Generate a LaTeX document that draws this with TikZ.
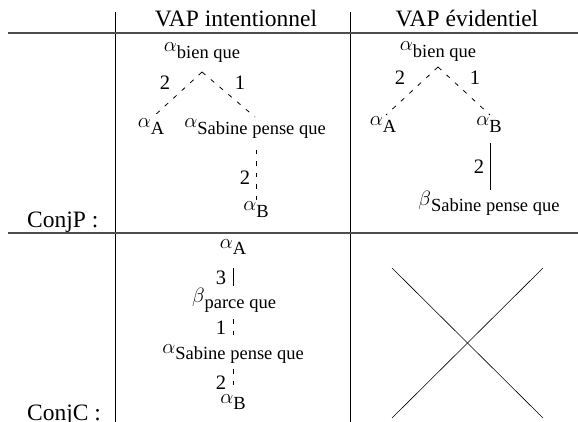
\documentclass[tikz,border=0pt]{standalone}
\usepackage{fontspec}
\setmainfont{Liberation Serif}
\tikzset{
  hdr/.style={font=\fontsize{23.5}{28}\selectfont, anchor=base, inner sep=0pt},
  lbl/.style={font=\fontsize{20.5}{24}\selectfont, inner sep=0pt},
  tnode/.style={font=\fontsize{18.5}{22}\selectfont, inner sep=0pt, anchor=base},
  vrule/.style={line width=0.9pt, black},
  hrule/.style={line width=1.1pt, black!70},
  dashedge/.style={line width=0.8pt, dash pattern=on 4.5pt off 7pt},
  solidedge/.style={line width=0.8pt},
  cross/.style={line width=0.6pt},
}
\newcommand{\glsym}[2]{{\fontsize{20.5}{24}\selectfont$#1$}\raisebox{-6.5pt}{#2}}
\begin{document}
\begin{tikzpicture}[x=1pt,y=-1pt]
\useasboundingbox (0,0) rectangle (578,422);
% table rules
\coordinate (v1t) at (115,12); \coordinate (v1b) at (115,422);
\coordinate (v2t) at (350,12); \coordinate (v2b) at (350,422);
\coordinate (h1l) at (8,33);   \coordinate (h1r) at (578,33);
\coordinate (h2l) at (8,233);  \coordinate (h2r) at (578,233);
\draw[vrule] (v1t) -- (v1b);
\draw[vrule] (v2t) -- (v2b);
\draw[hrule] (h1l) -- (h1r);
\draw[hrule] (h2l) -- (h2r);
% headers
\node[hdr] (hint) at (236,27) {VAP intentionnel};
\node[hdr] (hevi) at (467,27) {VAP évidentiel};
\node[hdr, anchor=base west] (conjp) at (27,227) {ConjP :};
\node[hdr, anchor=base west] (conjc) at (27,420) {ConjC :};
% tree 1
\node[tnode] (bq1) at (202,52) {\glsym{\alpha}{bien que}};
\node[tnode] (a1) at (151,128) {\glsym{\alpha}{A}};
\node[tnode] (s1) at (255,128) {\glsym{\alpha}{Sabine pense que}};
\node[tnode] (b1) at (256,211) {\glsym{\alpha}{B}};
\coordinate (t1apex) at (202,72);
\coordinate (t1l) at (153,117);
\coordinate (t1r) at (255,117);
\coordinate (t1vt) at (256,150);
\coordinate (t1vb) at (256,200);
\draw[dashedge] (t1apex) -- (t1l);
\draw[dashedge] (t1apex) -- (t1r);
\draw[dashedge] (t1vt) -- (t1vb);
\node[lbl] (l1a) at (165,83) {2};
\node[lbl] (l1b) at (240,83) {1};
\node[lbl] (l1c) at (245,178) {2};
% tree 2
\node[tnode] (bq2) at (438,51) {\glsym{\alpha}{bien que}};
\node[tnode] (a2) at (383,126) {\glsym{\alpha}{A}};
\node[tnode] (b2) at (489,126) {\glsym{\alpha}{B}};
\node[tnode] (s2) at (489,205) {\glsym{\beta}{Sabine pense que}};
\coordinate (t2apex) at (438,67);
\coordinate (t2l) at (386,115);
\coordinate (t2r) at (490,115);
\coordinate (t2vt) at (490,143);
\coordinate (t2vb) at (490,190);
\draw[dashedge] (t2apex) -- (t2l);
\draw[dashedge] (t2apex) -- (t2r);
\draw[solidedge] (t2vt) -- (t2vb);
\node[lbl] (l2a) at (400,78) {2};
\node[lbl] (l2b) at (475,78) {1};
\node[lbl] (l2c) at (479,167) {2};
% tree 3
\node[tnode] (a3) at (233,248) {\glsym{\alpha}{A}};
\node[tnode] (p3) at (234,302) {\glsym{\beta}{parce que}};
\node[tnode] (s3) at (233,353) {\glsym{\alpha}{Sabine pense que}};
\node[tnode] (b3) at (233,403) {\glsym{\alpha}{B}};
\coordinate (e1t) at (233,268); \coordinate (e1b) at (233,286);
\coordinate (e2t) at (233,319); \coordinate (e2b) at (233,336);
\coordinate (e3t) at (233,369); \coordinate (e3b) at (233,391);
\draw[solidedge] (e1t) -- (e1b);
\draw[dashedge] (e2t) -- (e2b);
\draw[dashedge] (e3t) -- (e3b);
\node[lbl] (l3a) at (221,278) {3};
\node[lbl] (l3b) at (221,328) {1};
\node[lbl] (l3c) at (221,383) {2};
% cross
\coordinate (x1) at (392,268); \coordinate (x2) at (543,418);
\coordinate (x3) at (392,418); \coordinate (x4) at (543,268);
\draw[cross] (x1) -- (x2);
\draw[cross] (x3) -- (x4);
\end{tikzpicture}
\end{document}
